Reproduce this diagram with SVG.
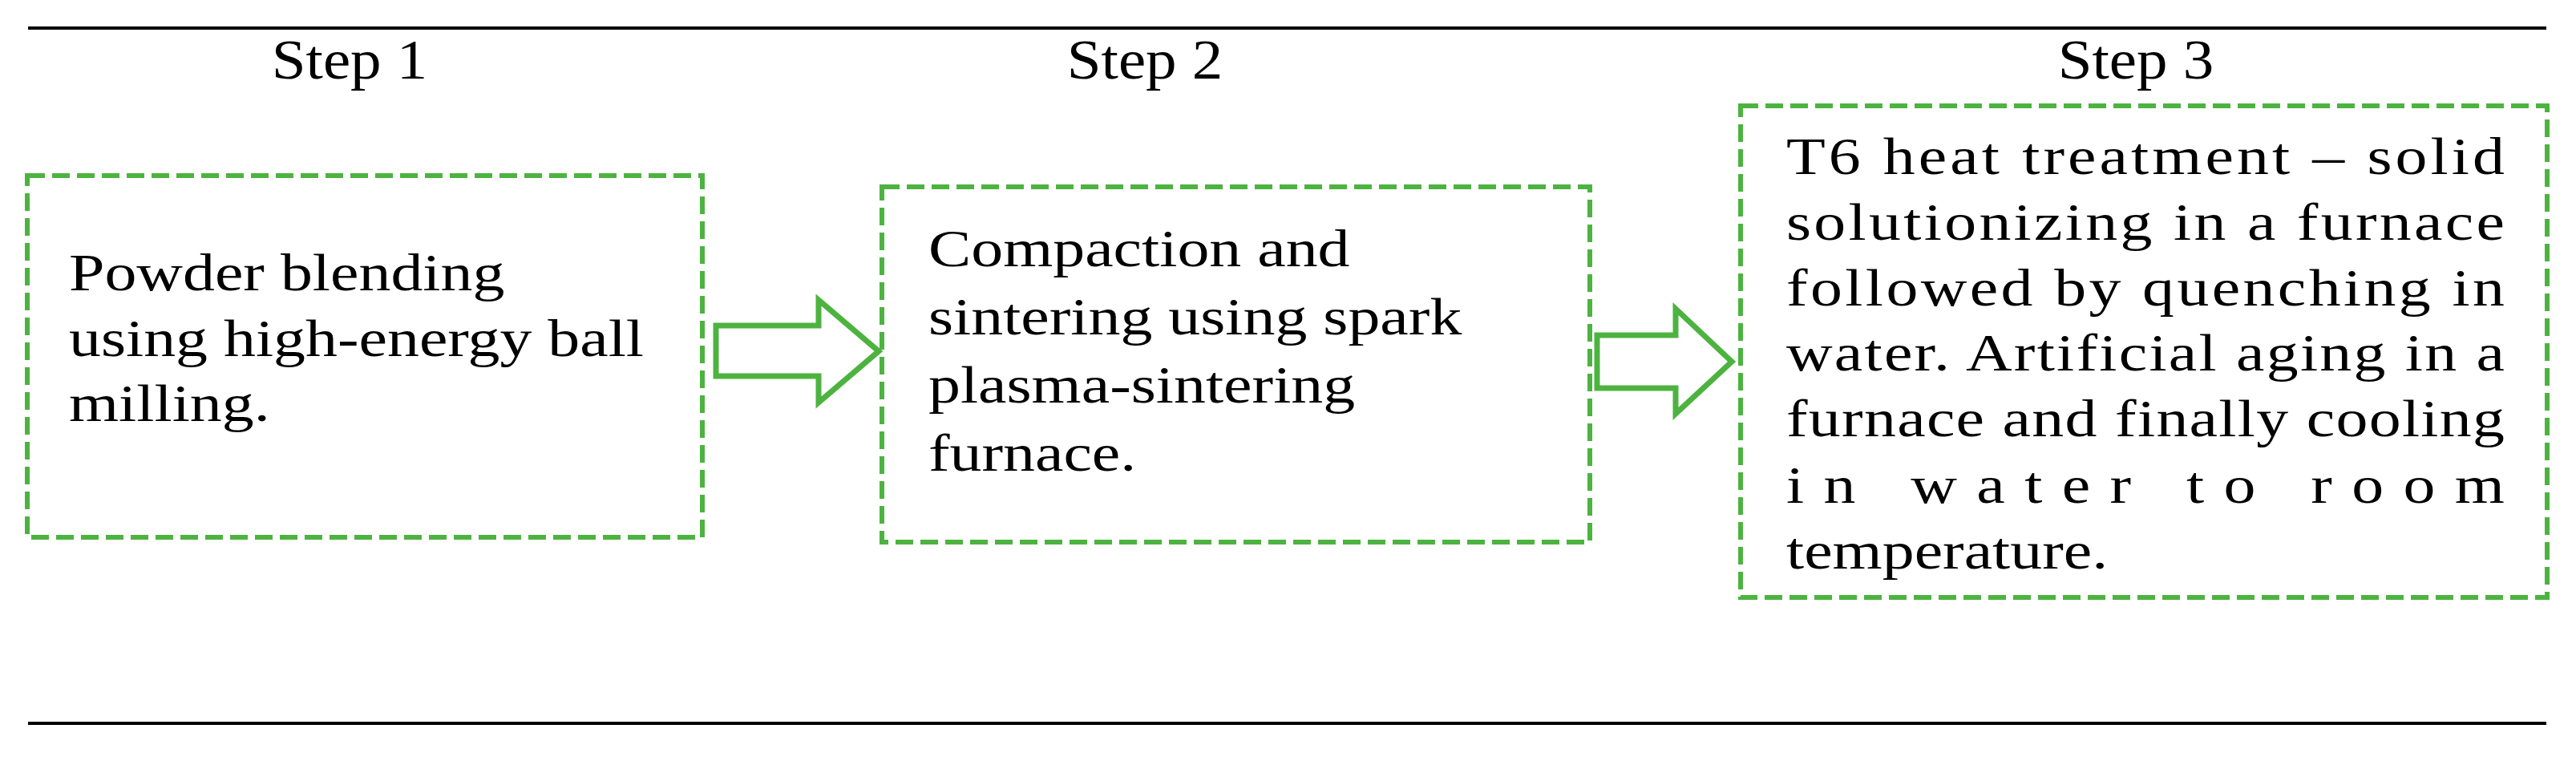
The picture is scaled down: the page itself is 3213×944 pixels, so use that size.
<svg xmlns="http://www.w3.org/2000/svg" width="3213" height="944" viewBox="0 0 3213 944">
<style>
.t{font-family:"Liberation Serif","Times New Roman",serif;font-size:66px;fill:#000}
.h{font-family:"Liberation Serif","Times New Roman",serif;font-size:70px;fill:#000;text-anchor:middle}
.box{fill:none;stroke:#4db340;stroke-width:6;stroke-dasharray:22 9}
.arr{fill:#fff;stroke:#4db340;stroke-width:7}
</style>
<rect width="3213" height="944" fill="#fff"/>
<line x1="35" y1="35" x2="3176" y2="35" stroke="#000" stroke-width="4"/>
<line x1="35" y1="902" x2="3176" y2="902" stroke="#000" stroke-width="4"/>
<g transform="scale(1.1 1)">
<text class="h" x="396.4" y="98">Step 1</text>
<text class="h" x="1298.2" y="98">Step 2</text>
<text class="h" x="2421.8" y="98">Step 3</text>
</g>
<g id="step1">
<rect class="box" x="34" y="219" width="842" height="451"/>
<g transform="scale(1.21 1)">
<text class="t" x="71.07" y="362">Powder blending</text>
<text class="t" x="71.07" y="444">using high-energy ball</text>
<text class="t" x="71.07" y="525">milling.</text>
</g>
</g>
<g id="step2">
<rect class="box" x="1100" y="233" width="883" height="443"/>
<g transform="scale(1.21 1)">
<text class="t" x="957" y="332">Compaction and</text>
<text class="t" x="957" y="417">sintering using spark</text>
<text class="t" x="957" y="502">plasma-sintering</text>
<text class="t" x="957" y="587">furnace.</text>
</g>
</g>
<g id="step3">
<rect class="box" x="2171" y="132" width="1006" height="613"/>
<g transform="scale(1.21 1)">
<text class="t" x="1841.3" y="217" textLength="740.5" lengthAdjust="spacing">T6 heat treatment – solid</text>
<text class="t" x="1841.3" y="299" textLength="740.5" lengthAdjust="spacing">solutionizing in a furnace</text>
<text class="t" x="1841.3" y="381" textLength="740.5" lengthAdjust="spacing">followed by quenching in</text>
<text class="t" x="1841.3" y="462" textLength="740.5" lengthAdjust="spacing">water. Artificial aging in a</text>
<text class="t" x="1841.3" y="544" textLength="740.5" lengthAdjust="spacing">furnace and finally cooling</text>
<text class="t" x="1841.3" y="627" textLength="740.5" lengthAdjust="spacing">in water to room</text>
<text class="t" x="1841.3" y="709">temperature.</text>
</g>
</g>
<g id="connectors">
<polygon class="arr" points="893,406 1021,406 1021,374 1096,438 1021,502 1021,469 893,469"/>
<polygon class="arr" points="1992,418 2090,418 2090,385 2160,451 2090,516 2090,484 1992,484"/>
</g>
</svg>
